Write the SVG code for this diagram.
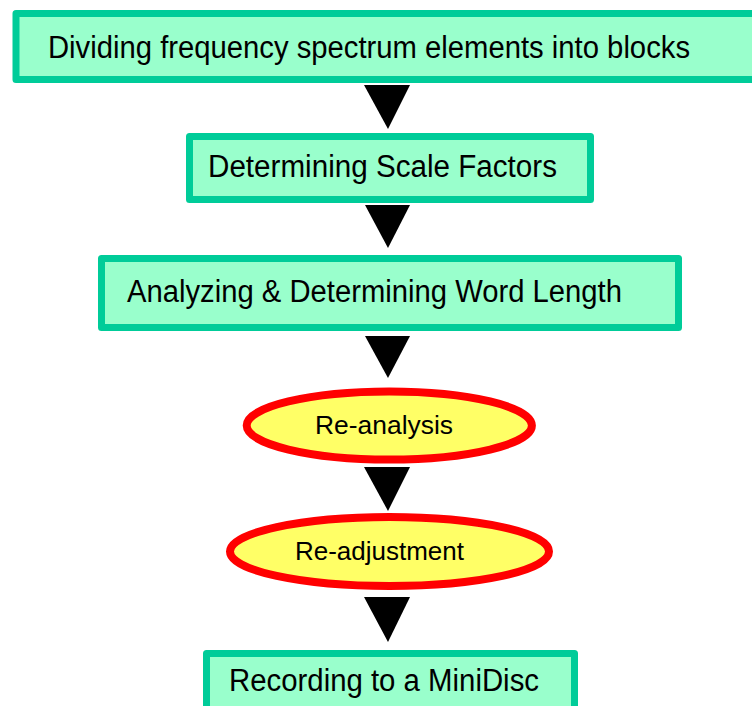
<svg xmlns="http://www.w3.org/2000/svg" width="752" height="706" viewBox="0 0 752 706">
  <style>
    .box { fill: #99FFCC; stroke: #00CC99; stroke-width: 7; stroke-linejoin: round; }
    .oval { fill: #FFFF66; stroke: #FF0000; stroke-width: 8; }
    .lbl { font-family: "Liberation Sans", Arial, sans-serif; font-size: 31px; fill: #000; }
    .olbl { font-family: "Liberation Sans", Arial, sans-serif; font-size: 25px; fill: #000; }
    .arrow { fill: #000; }
  </style>
  <rect width="752" height="706" fill="#FFFFFF"/>

  <!-- flow steps -->
  <g id="step-divide">
    <rect class="box" x="16" y="13.5" width="760" height="66"/>
    <text class="lbl" x="48" y="58" textLength="642" lengthAdjust="spacingAndGlyphs">Dividing frequency spectrum elements into blocks</text>
  </g>
  <g id="step-scale">
    <rect class="box" x="189.5" y="136.5" width="401" height="63"/>
    <text class="lbl" x="208" y="177" textLength="349" lengthAdjust="spacingAndGlyphs">Determining Scale Factors</text>
  </g>
  <g id="step-wordlength">
    <rect class="box" x="101.5" y="258.5" width="577" height="69"/>
    <text class="lbl" x="127" y="302" textLength="495" lengthAdjust="spacingAndGlyphs">Analyzing &amp; Determining Word Length</text>
  </g>
  <g id="step-reanalysis">
    <ellipse class="oval" cx="389.3" cy="425.5" rx="142.6" ry="34"/>
    <text class="olbl" x="315" y="434" textLength="138" lengthAdjust="spacingAndGlyphs">Re-analysis</text>
  </g>
  <g id="step-readjust">
    <ellipse class="oval" cx="389.5" cy="551.5" rx="159.5" ry="34.5"/>
    <text class="olbl" x="295" y="560" textLength="169" lengthAdjust="spacingAndGlyphs">Re-adjustment</text>
  </g>
  <g id="step-record">
    <rect class="box" x="206.5" y="653.5" width="368" height="80"/>
    <text class="lbl" x="229" y="691" textLength="310" lengthAdjust="spacingAndGlyphs">Recording to a MiniDisc</text>
  </g>

  <!-- connectors: downward triangles between steps -->
  <g id="connectors">
    <polygon class="arrow" points="364,85 410,85 388,129"/>
    <polygon class="arrow" points="365,205 410,205 388,248"/>
    <polygon class="arrow" points="365,336 410,336 388,378"/>
    <polygon class="arrow" points="364,467 410,467 388,511"/>
    <polygon class="arrow" points="364,597 410,597 388,642"/>
  </g>
</svg>
